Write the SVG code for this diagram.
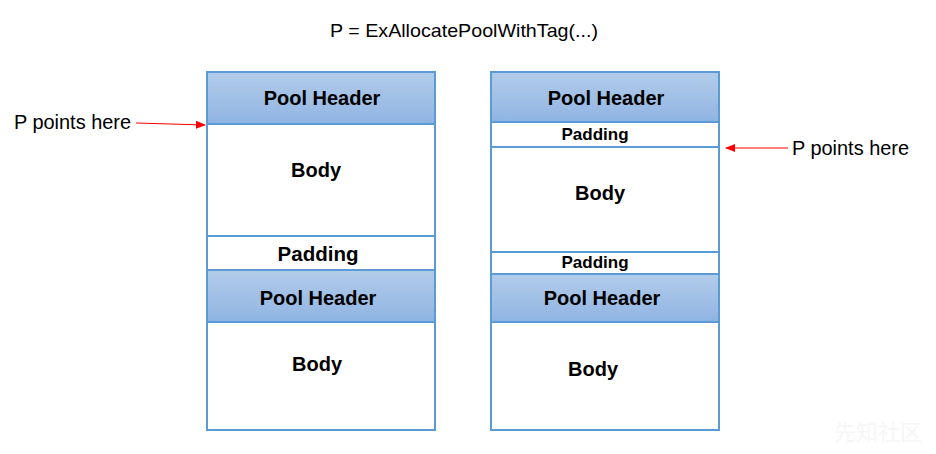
<svg xmlns="http://www.w3.org/2000/svg" width="936" height="454" viewBox="0 0 936 454">
<defs>
<linearGradient id="hg" x1="0" y1="0" x2="0" y2="1">
<stop offset="0" stop-color="#B3CCEA"/>
<stop offset="1" stop-color="#8FB4E2"/>
</linearGradient>
<marker id="ah" markerWidth="10" markerHeight="8" refX="9" refY="4" orient="auto" markerUnits="userSpaceOnUse">
<path d="M0,0 L10,4 L0,8 Z" fill="#FF0000"/>
</marker>
<style>
.hdr{fill:url(#hg);stroke:#5B9BD5;stroke-width:2}
.cell{fill:#FFFFFF;stroke:#5B9BD5;stroke-width:2}
.lbl{font-family:"Liberation Sans",Arial,sans-serif;font-weight:bold;fill:#000;text-anchor:middle;dominant-baseline:central}
.txt{font-family:"Liberation Sans",Arial,sans-serif;fill:#000;dominant-baseline:central}
.arr{stroke:#FF0000;stroke-width:1.2;fill:none;marker-end:url(#ah)}
</style>
</defs>
<rect width="936" height="454" fill="#FFFFFF"/>
<text class="txt" x="464" y="30" font-size="19" text-anchor="middle" textLength="268" lengthAdjust="spacingAndGlyphs">P = ExAllocatePoolWithTag(...)</text>

<g id="left-column">
<g id="l-header1"><rect class="hdr" x="207" y="72" width="228" height="52"/><text class="lbl" x="322" y="98" font-size="20">Pool Header</text></g>
<g id="l-body1"><rect class="cell" x="207" y="124" width="228" height="112"/><text class="lbl" x="316" y="170" font-size="20">Body</text></g>
<g id="l-padding1"><rect class="cell" x="207" y="236" width="228" height="34"/><text class="lbl" x="318" y="253" font-size="20.5">Padding</text></g>
<g id="l-header2"><rect class="hdr" x="207" y="270" width="228" height="52"/><text class="lbl" x="318" y="298" font-size="20">Pool Header</text></g>
<g id="l-body2"><rect class="cell" x="207" y="322" width="228" height="108"/><text class="lbl" x="317" y="364" font-size="20">Body</text></g>
</g>

<g id="right-column">
<g id="r-header1"><rect class="hdr" x="491" y="72" width="228" height="50"/><text class="lbl" x="606" y="98" font-size="20">Pool Header</text></g>
<g id="r-padding1"><rect class="cell" x="491" y="122" width="228" height="25"/><text class="lbl" x="595" y="134" font-size="17">Padding</text></g>
<g id="r-body1"><rect class="cell" x="491" y="147" width="228" height="105"/><text class="lbl" x="600" y="193" font-size="20">Body</text></g>
<g id="r-padding2"><rect class="cell" x="491" y="252" width="228" height="22"/><text class="lbl" x="595" y="262" font-size="17">Padding</text></g>
<g id="r-header2"><rect class="hdr" x="491" y="274" width="228" height="48"/><text class="lbl" x="602" y="298" font-size="20">Pool Header</text></g>
<g id="r-body2"><rect class="cell" x="491" y="322" width="228" height="108"/><text class="lbl" x="593" y="369" font-size="20">Body</text></g>
</g>

<g id="label-left"><text class="txt" x="14" y="122" font-size="19.5" textLength="117" lengthAdjust="spacingAndGlyphs">P points here</text></g>
<g id="label-right"><text class="txt" x="792" y="148" font-size="19.5" textLength="117" lengthAdjust="spacingAndGlyphs">P points here</text></g>

<g id="connectors">
<line class="arr" x1="136" y1="123" x2="205" y2="125"/>
<line class="arr" x1="788" y1="148" x2="726" y2="148"/>
</g>

<text x="922" y="440" font-family="Noto Sans CJK SC,sans-serif" font-size="22" fill="#F6F6F6" text-anchor="end">先知社区</text>
</svg>
